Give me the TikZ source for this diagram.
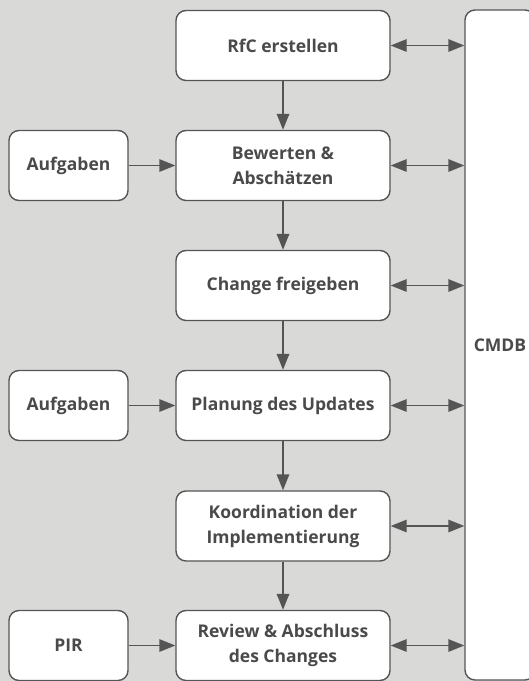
\documentclass[tikz,border=0pt]{standalone}
\usepackage{fontspec}
\setmainfont{Open Sans}
\usetikzlibrary{arrows.meta}
\definecolor{bg}{HTML}{D9D9D7}
\definecolor{ink}{HTML}{4A4A4A}
\definecolor{edgec}{HTML}{555555}
\begin{document}
\begin{tikzpicture}[x=1pt,y=-1pt,
  box/.style={draw=edgec, line width=1.4pt, fill=white, rounded corners=10pt,
    minimum height=70pt, inner sep=0pt, align=center, text=ink,
    font=\bfseries\fontsize{17.5}{25}\selectfont},
  mainbox/.style={box, minimum width=214pt},
  sidebox/.style={box, minimum width=119pt},
  arr/.style={draw=edgec, line width=1.4pt, -{Triangle[length=16pt,width=12.5pt]}},
  darr/.style={draw=edgec, line width=1.4pt, {Triangle[length=16pt,width=12.5pt]}-{Triangle[length=16pt,width=12.5pt]}}]
\useasboundingbox (0,0) rectangle (529,681);
\clip (0,0) rectangle (529,681);
\fill[bg] (0,0) rectangle (529,681);

\node[box, minimum width=70pt, minimum height=670pt] (cmdb) at (500,345) {CMDB};

\node[mainbox] (rfc) at (283,45.5) {RfC erstellen};
\node[mainbox] (bew) at (283,165.5) {Bewerten \&\\Abschätzen};
\node[mainbox] (frei) at (283,285.5) {Change freigeben};
\node[mainbox] (plan) at (283,405.5) {Planung des Updates};
\node[mainbox] (koord) at (283,526) {Koordination der\\Implementierung};
\node[mainbox] (rev) at (283,645.5) {Review \& Abschluss\\des Changes};

\node[sidebox] (auf1) at (68.5,165.5) {Aufgaben};
\node[sidebox] (auf2) at (68.5,405.5) {Aufgaben};
\node[sidebox] (pir) at (68.5,645.5) {PIR};

\draw[arr] (rfc) -- (bew);
\draw[arr] (bew) -- (frei);
\draw[arr] (frei) -- (plan);
\draw[arr] (plan) -- (koord);
\draw[arr] (koord) -- (rev);

\draw[arr] (auf1) -- (bew);
\draw[arr] (auf2) -- (plan);
\draw[arr] (pir) -- (rev);

\foreach \n in {rfc,bew,frei,plan,koord,rev}
  \draw[darr] (\n.east) -- (\n.east -| cmdb.west);
\end{tikzpicture}
\end{document}
